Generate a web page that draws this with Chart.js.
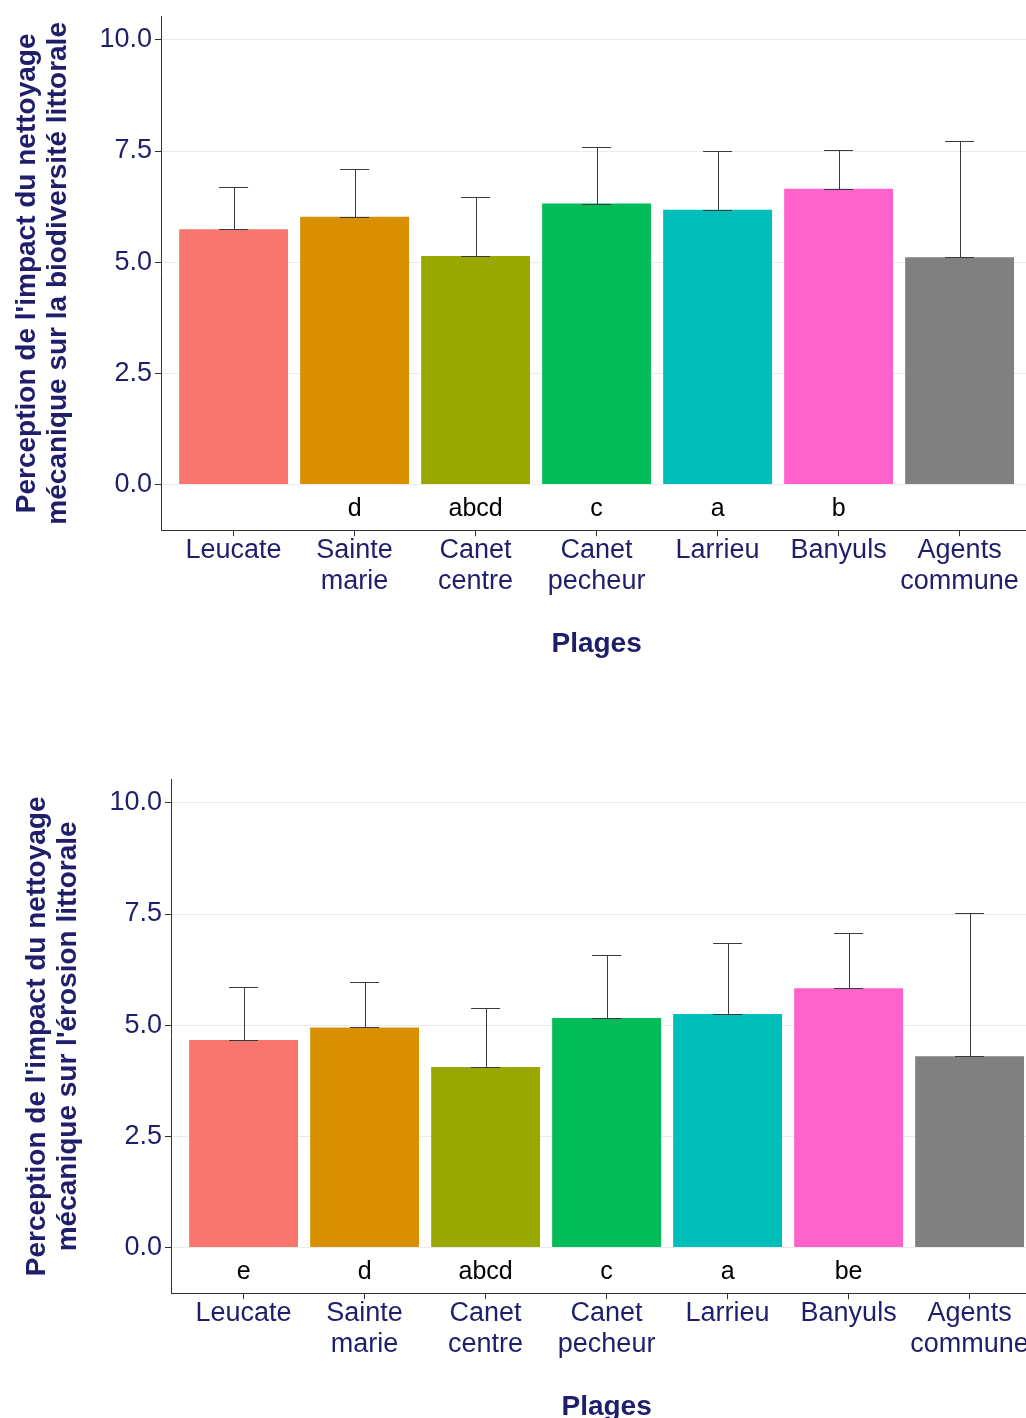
<!DOCTYPE html>
<html>
<head>
<meta charset="utf-8">
<script src="https://cdn.jsdelivr.net/npm/chart.js@4"></script>
<style>
  html, body { margin: 0; padding: 0; background: #ffffff; overflow: hidden; width: 1026px; height: 1418px; }
  .wrap { position: absolute; }
  #w1 { left: 0px; top: 0px; }
  #w2 { left: 10px; top: 763px; }
</style>
</head>
<body>
<div class="wrap" id="w1"><canvas id="c1" width="1040" height="680"></canvas></div>
<div class="wrap" id="w2"><canvas id="c2" width="1040" height="680"></canvas></div>
<script>
// ---- data ----
const categories = ['Leucate', 'Sainte marie', 'Canet centre', 'Canet pecheur', 'Larrieu', 'Banyuls', 'Agents commune'];
const barColors = ['#F8766D', '#D89000', '#99A800', '#00BC59', '#00BFBA', '#FF63CB', '#808080'];
const yTicks = [0, 2.5, 5, 7.5, 10];

const biodiversityMeans = [5.74, 6.02, 5.14, 6.32, 6.18, 6.65, 5.11];
const biodiversitySD = [0.96, 1.07, 1.33, 1.26, 1.32, 0.87, 2.62];
const biodiversityLetters = ['', 'd', 'abcd', 'c', 'a', 'b', ''];
const biodiversityTitle = ["Perception de l'impact du nettoyage", "mécanique sur la biodiversité littorale"];

const erosionMeans = [4.67, 4.95, 4.06, 5.16, 5.25, 5.83, 4.30];
const erosionSD = [1.19, 1.03, 1.33, 1.41, 1.60, 1.25, 3.23];
const erosionLetters = ['e', 'd', 'abcd', 'c', 'a', 'be', ''];
const erosionTitle = ["Perception de l'impact du nettoyage", "mécanique sur l'érosion littorale"];

const xTitle = 'Plages';
const letterY = -0.55;

// ---- style ----
const NAVY = '#1E1E6B';
Chart.defaults.font.family = "'Liberation Sans', Arial, sans-serif";
Chart.defaults.devicePixelRatio = 1;

const errorBarPlugin = {
  id: 'errorBars',
  afterDatasetsDraw(chart, args, opts) {
    const ctx = chart.ctx, xs = chart.scales.x, ys = chart.scales.y;
    ctx.save();
    ctx.strokeStyle = '#3a3a3a';
    ctx.lineWidth = 1;
    opts.means.forEach((m, i) => {
      const xc = Math.round(xs.getPixelForValue(i + 1)) + 0.5;
      const xl = xs.getPixelForValue(i + 1 - 0.12);
      const xr = xs.getPixelForValue(i + 1 + 0.12);
      const y0 = Math.round(ys.getPixelForValue(m)) + 0.5;
      const y1 = Math.round(ys.getPixelForValue(m + opts.sd[i])) + 0.5;
      ctx.beginPath();
      ctx.moveTo(xc, y0); ctx.lineTo(xc, y1);
      ctx.moveTo(xl, y0); ctx.lineTo(xr, y0);
      ctx.moveTo(xl, y1); ctx.lineTo(xr, y1);
      ctx.stroke();
    });
    ctx.fillStyle = '#000000';
    ctx.font = "25px 'Liberation Sans', Arial, sans-serif";
    ctx.textAlign = 'center';
    ctx.textBaseline = 'middle';
    opts.letters.forEach((t, i) => {
      if (!t) return;
      ctx.fillText(t, xs.getPixelForValue(i + 1), ys.getPixelForValue(letterY));
    });
    ctx.restore();
  }
};

function makeChart(id, means, sd, letters, yTitle) {
  return new Chart(document.getElementById(id), {
    type: 'bar',
    data: {
      datasets: [{
        data: means.map((v, i) => ({ x: i + 1, y: v })),
        backgroundColor: barColors,
        borderWidth: 0,
        barPercentage: 0.9,
        categoryPercentage: 1.0
      }]
    },
    plugins: [errorBarPlugin],
    options: {
      responsive: false,
      animation: false,
      events: [],
      layout: { padding: { top: 14.2, bottom: 19.8, left: 0, right: 7.8 } },
      plugins: {
        legend: { display: false },
        tooltip: { enabled: false },
        errorBars: { means: means, sd: sd, letters: letters }
      },
      scales: {
        x: {
          type: 'linear',
          min: 0.4, max: 7.6,
          bounds: 'data',
          offset: false,
          afterBuildTicks: s => { s.ticks = categories.map((c, i) => ({ value: i + 1 })); },
          afterFit: s => { s.height = 130; },
          ticks: {
            autoSkip: false, maxRotation: 0, minRotation: 0,
            color: NAVY, padding: -2,
            font: { size: 27, lineHeight: 1.18 },
            callback: v => categories[Math.round(v) - 1].split(' ')
          },
          grid: { display: true, drawOnChartArea: false, offset: false, tickLength: 6, tickColor: '#333333', tickWidth: 1 },
          border: { display: true, color: '#333333', width: 1 },
          title: { display: true, text: xTitle, color: NAVY, font: { size: 28, weight: 'bold', lineHeight: 1.1 }, padding: { top: 0, bottom: 1 } }
        },
        y: {
          type: 'linear',
          min: -1.025, max: 10.525,
          bounds: 'data',
          afterBuildTicks: s => { s.ticks = yTicks.map(v => ({ value: v })); },
          afterFit: s => { s.width = 161; },
          ticks: { color: NAVY, padding: 3, font: { size: 27, lineHeight: 1.0 }, callback: v => Number(v).toFixed(1) },
          grid: { color: '#EBEBEB', lineWidth: 1, tickLength: 6, tickColor: '#333333', drawTicks: true },
          border: { display: true, color: '#333333', width: 1 },
          title: { display: true, text: yTitle, color: NAVY, font: { size: 28, weight: 'bold', lineHeight: 1.1 }, padding: { top: 12, bottom: 0 } }
        }
      }
    }
  });
}

makeChart('c1', biodiversityMeans, biodiversitySD, biodiversityLetters, biodiversityTitle);
makeChart('c2', erosionMeans, erosionSD, erosionLetters, erosionTitle);
</script>
</body>
</html>
